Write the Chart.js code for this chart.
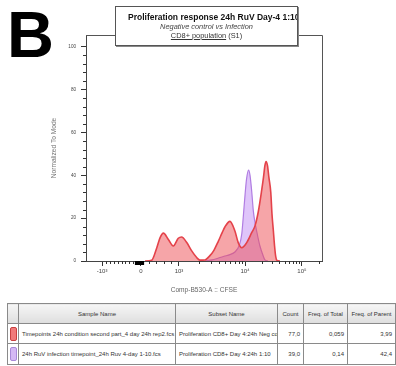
<!DOCTYPE html>
<html><head><meta charset="utf-8">
<script src="https://cdn.jsdelivr.net/npm/chart.js@4.4.0/dist/chart.umd.min.js"></script>
<style>
html,body{margin:0;padding:0;background:#fff;width:396px;height:366px;overflow:hidden;font-family:"Liberation Sans",Arial,sans-serif;}
#wrap{position:relative;width:396px;height:366px;}
#c{position:absolute;left:0;top:0;}
#letter{position:absolute;left:7px;top:2px;font:bold 65px/65px "Liberation Sans",Arial,sans-serif;color:#000;}
#tbox{position:absolute;left:115px;top:6px;width:181px;height:38px;border:1px solid #555;box-shadow:1px 1px 0 #888;background:#fff;overflow:hidden;}
#tbox div{position:absolute;white-space:nowrap;}
#t1{left:12px;top:5px;font:bold 8.5px/10px "Liberation Sans",Arial,sans-serif;color:#111;}
#t2{left:0;width:181px;text-align:center;top:15px;font:italic 7.4px/9px "Liberation Sans",Arial,sans-serif;color:#444;}
#t3{left:0;width:181px;text-align:center;top:24px;font:7.4px/9px "Liberation Sans",Arial,sans-serif;color:#333;}
#t3 u{text-decoration:underline;}
#tbl{position:absolute;left:7px;top:303px;border-collapse:collapse;table-layout:fixed;width:388px;border:1px solid #999;font:6px "Liberation Sans",Arial,sans-serif;color:#333;}
#tbl td,#tbl th{border:1px solid #8a8a8a;padding:0 3px;white-space:nowrap;overflow:hidden;}
#tbl th{height:19px;font-weight:normal;text-align:center;background:linear-gradient(#f6f6f6,#dedede);color:#333;}
#tbl tr.r1 td{height:19px;}
#tbl tr.r2 td{height:20px;}
#tbl td.num{text-align:right;}
#tbl td.sw{padding:0;}
.swatch{width:7px;height:14px;margin:0 auto;border-radius:2px;box-sizing:border-box;}
.sw1{background:#f07a7a;border:1px solid #c84040;}
.sw2{background:#d4b8f4;border:1px solid #a888d8;}
</style></head>
<body><div id="wrap">
<canvas id="c" width="396" height="300"></canvas>
<div id="letter">B</div>
<div id="tbox">
<div id="t1">Proliferation response 24h RuV Day-4 1:10</div>
<div id="t2">Negative control vs Infection</div>
<div id="t3"><u>CD8+ population</u> (S1)</div>
</div>
<table id="tbl">
<colgroup><col style="width:11px"><col style="width:157px"><col style="width:102px"><col style="width:26px"><col style="width:44px"><col style="width:48px"></colgroup>
<tr><th></th><th>Sample Name</th><th>Subset Name</th><th>Count</th><th>Freq. of Total</th><th>Freq. of Parent</th></tr>
<tr class="r1"><td class="sw"><div class="swatch sw1"></div></td><td>Timepoints 24h condition second part_4 day 24h rep2.fcs</td><td>Proliferation CD8+ Day 4:24h Neg control</td><td class="num">77,0</td><td class="num">0,059</td><td class="num">3,99</td></tr>
<tr class="r2"><td class="sw"><div class="swatch sw2"></div></td><td>24h RuV infection timepoint_24h Ruv 4-day 1-10.fcs</td><td>Proliferation CD8+ Day 4:24h 1:10</td><td class="num">39,0</td><td class="num">0,14</td><td class="num">42,4</td></tr>
</table>
</div>
<script>
// Display-channel positions (0-1000) of the CFSE axis decades
const xTickChannels = [68, 233, 394, 674, 915];
const xTickLabels = ['-10\u00B3', '0', '10\u00B3', '10\u2074', '10\u2075'];
const yTicks = [0, 20, 40, 60, 80, 100];

// Negative control (red) histogram, normalized to mode
const redChannel = [250, 278, 300, 314, 328, 349, 370, 391, 405, 427, 448, 469, 483, 504, 525, 542, 561, 576, 589, 610, 631, 645, 660, 681, 702, 716, 730, 744, 752, 758, 763, 769, 775, 783, 788, 794, 799, 804, 809, 822];
const redCount   = [0, 0.3, 6.2, 10.9, 13, 10, 7, 10.6, 11.2, 8.6, 4.7, 1.6, 0.4, 0.5, 2.5, 5, 9.3, 13, 16, 18.5, 14, 8.6, 6.2, 8.6, 13.2, 16.4, 23, 32.7, 39, 44.5, 46.4, 44.5, 39, 32, 22, 14, 7, 2, 0.3, 0];

// RuV infection 1:10 (purple) histogram
const purpleChannel = [504, 534, 559, 585, 610, 631, 650, 660, 666, 674, 680, 689, 695, 702, 709, 716, 723, 737, 751, 758, 771];
const purpleCount   = [0, 0.5, 1.3, 2.2, 3, 4.2, 7.5, 12.6, 20, 31, 38, 42.4, 40, 32.7, 23.4, 18, 14, 7, 2.3, 0.5, 0];

const toPts = (xs, ys) => xs.map((x, i) => ({x: x, y: ys[i]}));

const FONT = '"Liberation Sans", Arial, sans-serif';

const minorTicks = {
  id: 'minorTicks',
  afterDraw(chart) {
    const {ctx, chartArea: a, scales: {x, y}} = chart;
    ctx.save();
    ctx.strokeStyle = '#555';
    ctx.lineWidth = 1;
    ctx.beginPath();
    ctx.moveTo(a.left, a.top + 0.5);
    ctx.lineTo(Math.round(a.right) + 0.5, a.top + 0.5);
    ctx.lineTo(Math.round(a.right) + 0.5, a.bottom);
    ctx.stroke();
    ctx.strokeStyle = '#333';
    ctx.beginPath();
    for (let v = 4; v < 104; v += 4) {
      if (v % 20 === 0) continue;
      const py = Math.round(y.getPixelForValue(v)) + 0.5;
      ctx.moveTo(a.left - 3, py); ctx.lineTo(a.left, py);
    }
    const xm = [];
    const [n, z, d3, d4, d5] = xTickChannels;
    for (let k = 1; k < 10; k++) xm.push(n + (z - n) * k / 10);
    for (let k = 1; k < 5; k++) xm.push(z + (d3 - z) * k / 5);
    for (let k = 2; k < 10; k++) xm.push(d3 + (d4 - d3) * Math.log10(k));
    for (let k = 2; k < 10; k++) xm.push(d4 + (d5 - d4) * Math.log10(k));
    xm.push(d5 + (d5 - d4) * Math.log10(2));
    const yb = a.bottom;
    xm.forEach(v => {
      const px = Math.round(x.getPixelForValue(v)) + 0.5;
      ctx.moveTo(px, yb); ctx.lineTo(px, yb + 3);
    });
    ctx.stroke();
    ctx.strokeStyle = '#000';
    ctx.lineWidth = 1.2;
    ctx.beginPath();
    for (let v = z - 26; v <= z + 8; v += 3) {
      const px = Math.round(x.getPixelForValue(v)) + 0.5;
      ctx.moveTo(px, yb); ctx.lineTo(px, yb + 4);
    }
    ctx.stroke();
    ctx.restore();
  }
};

new Chart(document.getElementById('c'), {
  type: 'line',
  data: {
    datasets: [
      {
        label: 'Timepoints 24h condition second part_4 day 24h rep2.fcs',
        data: toPts(redChannel, redCount),
        borderColor: 'rgb(228,66,74)',
        backgroundColor: 'rgba(238,76,82,0.5)',
        borderWidth: 1.6,
        fill: 'origin',
        pointRadius: 0,
        cubicInterpolationMode: 'monotone'
      },
      {
        label: '24h RuV infection timepoint_24h Ruv 4-day 1-10.fcs',
        data: toPts(purpleChannel, purpleCount),
        borderColor: 'rgb(176,124,226)',
        backgroundColor: 'rgba(196,150,245,0.55)',
        borderWidth: 1.2,
        fill: 'origin',
        pointRadius: 0,
        cubicInterpolationMode: 'monotone'
      }
    ]
  },
  options: {
    responsive: false,
    animation: false,
    layout: {padding: {left: 0, right: 74, top: 35, bottom: 0}},
    plugins: {legend: {display: false}, tooltip: {enabled: false}},
    scales: {
      x: {
        type: 'linear', min: 0, max: 1000,
        afterBuildTicks: s => { s.ticks = xTickChannels.map(v => ({value: v})); },
        afterFit: s => { s.height = 39; },
        ticks: {
          callback: (v, i) => xTickLabels[i],
          font: {size: 6, family: FONT}, color: '#444', padding: 2,
          maxRotation: 0, autoSkip: false
        },
        grid: {drawOnChartArea: false, tickLength: 5, tickColor: '#333'},
        border: {color: '#444', width: 1},
        title: {display: true, text: 'Comp-B530-A :: CFSE', font: {size: 6.6, family: FONT}, color: '#666', padding: {top: 0, bottom: 6}}
      },
      y: {
        type: 'linear', min: 0, max: 105.5,
        afterBuildTicks: s => { s.ticks = yTicks.map(v => ({value: v})); },
        afterFit: s => { s.width = 86; },
        ticks: {font: {size: 4.6, family: FONT}, color: '#444', padding: 5},
        grid: {drawOnChartArea: false, tickLength: 5, tickColor: '#333'},
        border: {color: '#444', width: 1},
        title: {display: true, text: 'Normalized To Mode', font: {size: 6.6, family: FONT}, color: '#777', padding: {top: 50, bottom: 0}}
      }
    }
  },
  plugins: [minorTicks]
});
</script>
</body></html>
